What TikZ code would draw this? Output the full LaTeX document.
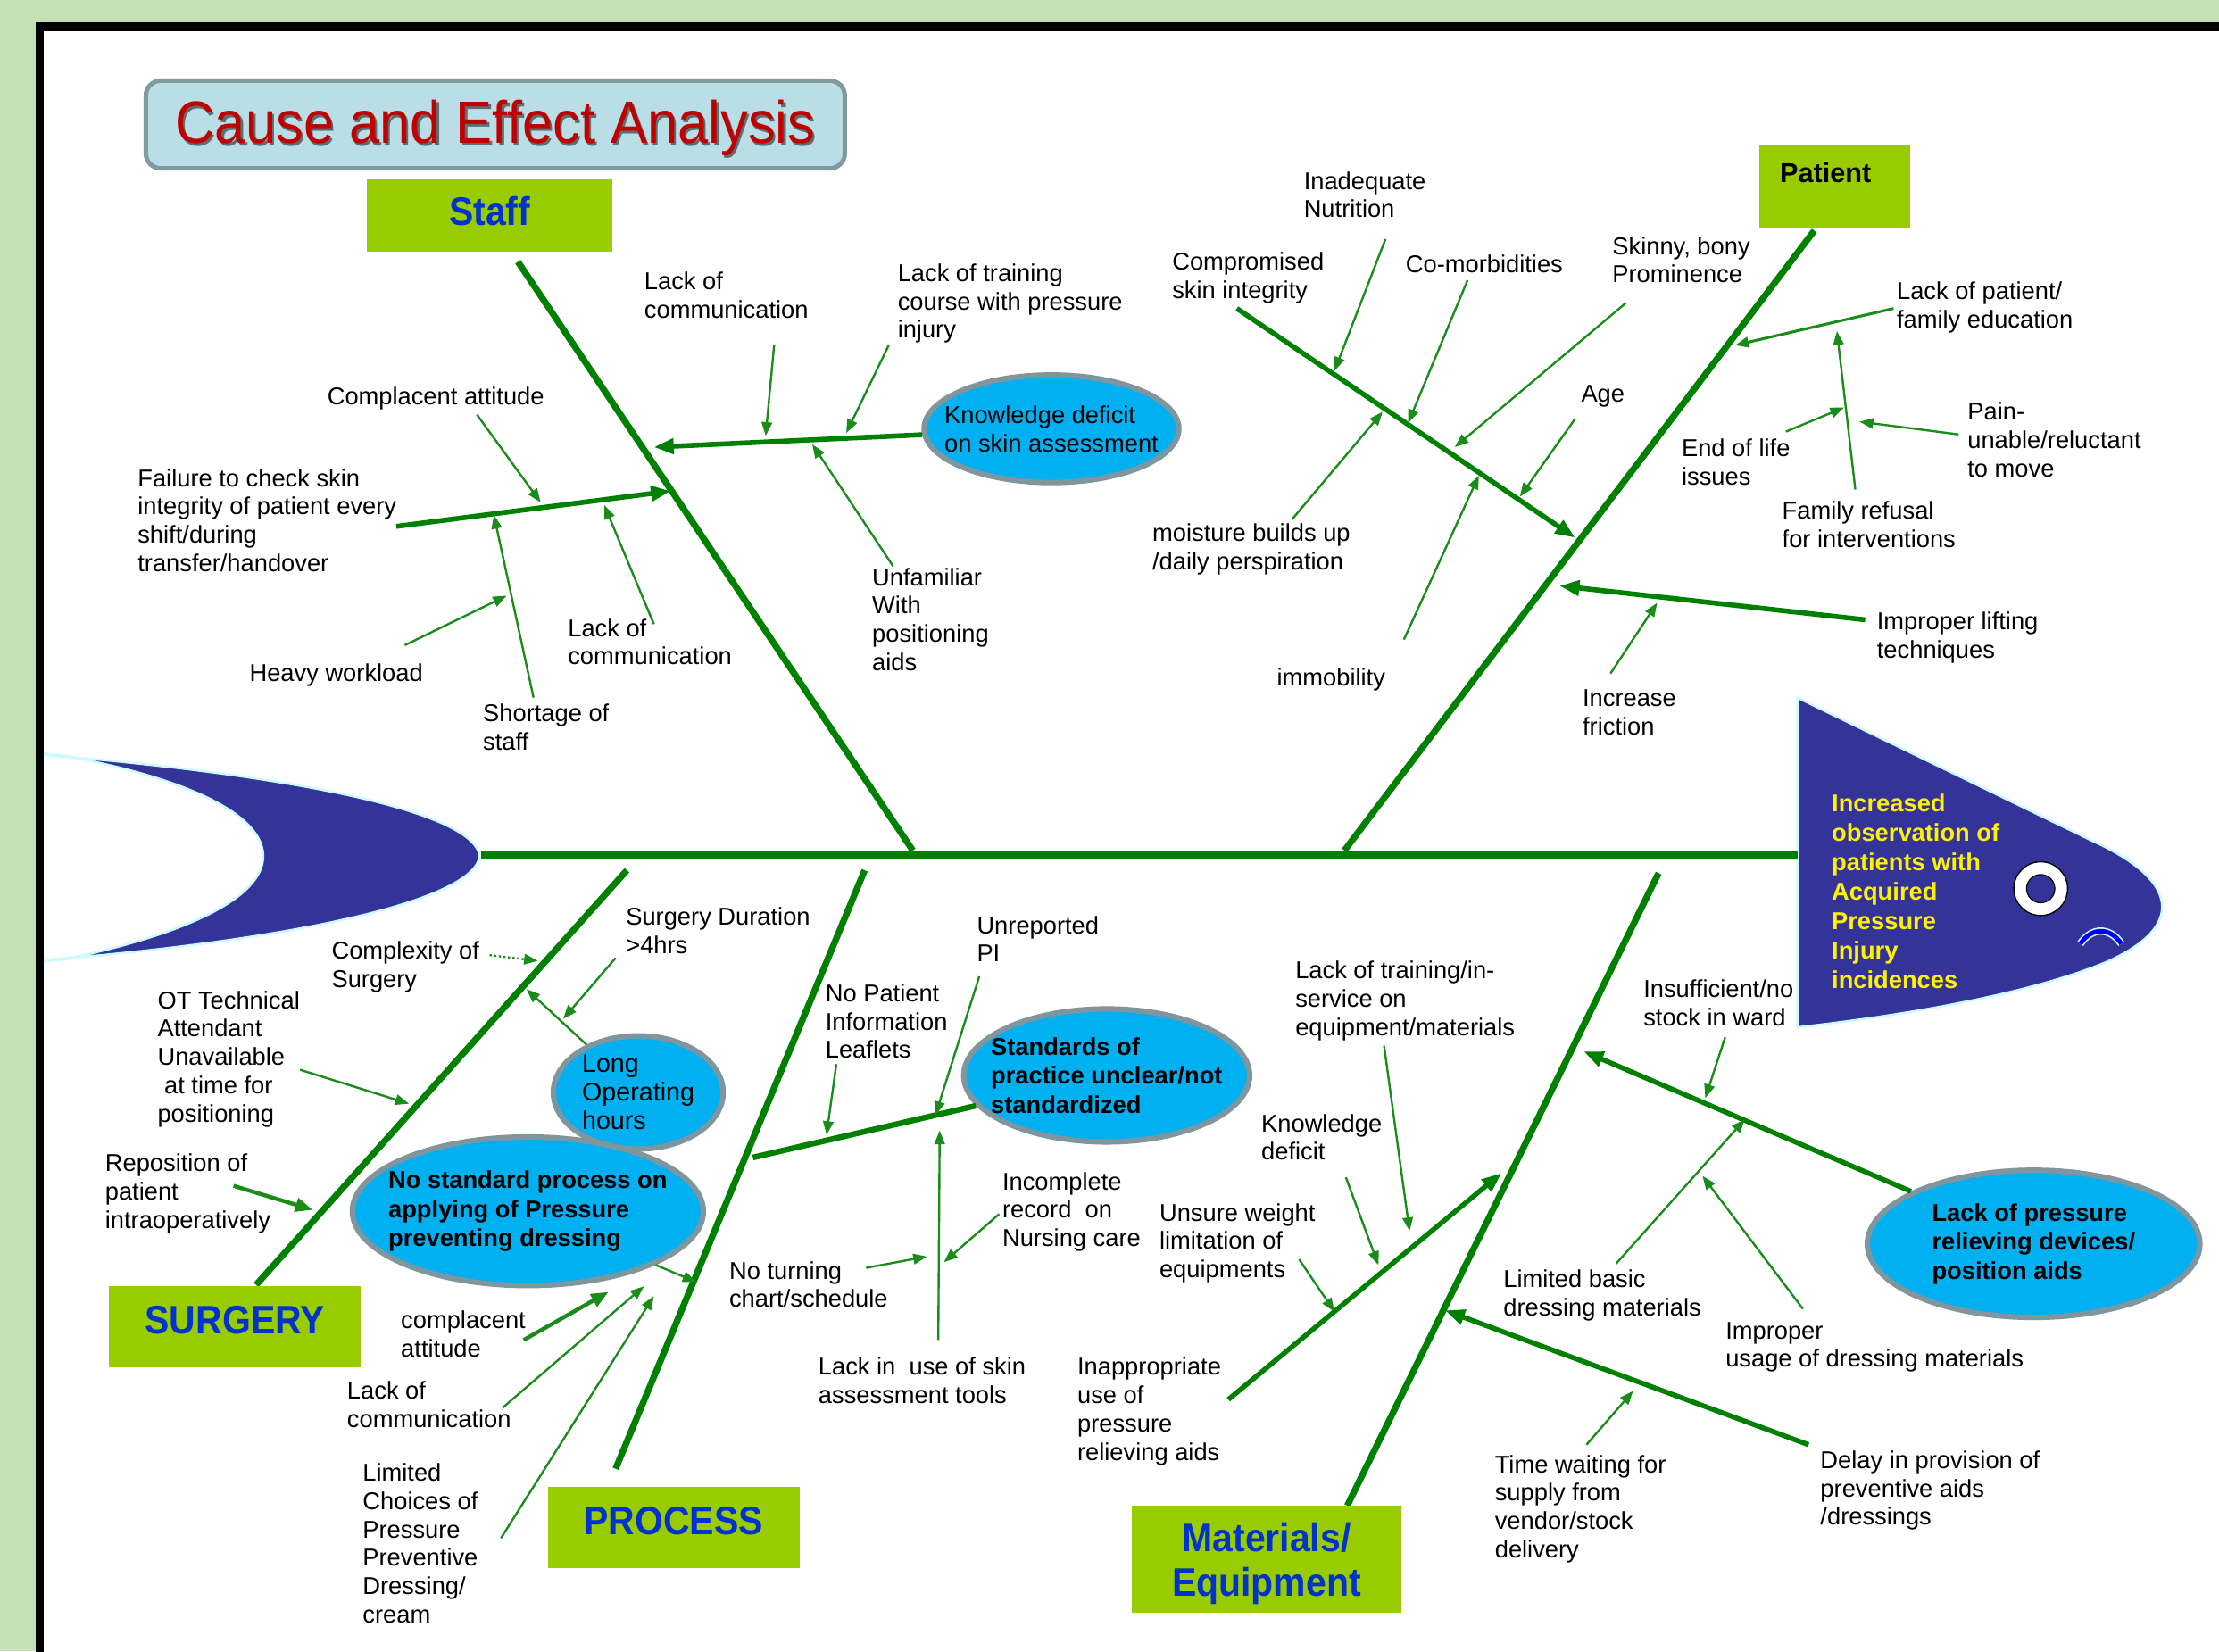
\documentclass[tikz,border=0pt]{standalone}
\usepackage{fontspec}
\setmainfont{Liberation Sans}
\newfontfamily\headfont[FakeStretch=0.92]{Liberation Sans}
\usetikzlibrary{arrows.meta,shapes.geometric,positioning}

\definecolor{bggreen}{RGB}{197,224,180}
\definecolor{bonegreen}{RGB}{0,128,0}
\definecolor{causegreen}{RGB}{25,140,25}
\definecolor{boxgreen}{RGB}{153,204,0}
\definecolor{catblue}{RGB}{0,51,204}
\definecolor{fishblue}{RGB}{51,51,153}
\definecolor{ovalblue}{RGB}{0,176,240}
\definecolor{ovalrim}{RGB}{128,150,158}
\definecolor{titlefill}{RGB}{185,222,230}
\definecolor{titlerim}{RGB}{128,155,160}
\definecolor{titlered}{RGB}{192,0,0}
\definecolor{glow}{RGB}{205,250,255}

\tikzset{
  lbl/.style={anchor=north west, inner sep=0pt, align=left, font=\fontsize{9.8}{11.4}\selectfont},
  catbox/.style={fill=boxgreen, inner sep=0pt, align=center, text=catblue, font=\headfont\bfseries\fontsize{16}{18.2}\selectfont},
  oval/.style={ellipse, fill=ovalblue, draw=ovalrim, line width=2.2pt, inner xsep=-1cm, inner ysep=-0.6cm, align=left, font=\fontsize{9.8}{11.6}\selectfont},
  ovalbold/.style={oval, font=\bfseries\fontsize{9.8}{11.6}\selectfont},
  bone/.style={draw=bonegreen, line width=2.6pt},
  branch/.style={draw=bonegreen, line width=2pt, -{Triangle[length=8pt,width=6pt]}},
  cause/.style={draw=causegreen, line width=0.85pt, -{Triangle[length=5.5pt,width=4.2pt]}},
  midcause/.style={cause, line width=1.6pt, -{Triangle[length=7pt,width=5.5pt]}}
}

\begin{document}
\begin{tikzpicture}[x=0.02cm, y=-0.02cm]
    \useasboundingbox (0,0) rectangle (1568,1167);
    \clip (0,0) rectangle (1568,1167);

    % Page and frame
    \fill[bggreen] (0,0) rectangle (1568,1167);
    \draw[line width=3.4pt, fill=white] (28,19) rectangle (1620,1220);

    % Title
    \node[draw=titlerim, fill=titlefill, line width=1.8pt, rounded corners=6pt, minimum width=9.88cm, minimum height=1.24cm] (titlebox) at (350,88) {};
    \node[font=\headfont\fontsize{24}{28}\selectfont, text=black, opacity=0.5] (titleshade) at (351.5,92) {Cause and Effect Analysis};
    \node[font=\headfont\fontsize{24}{28}\selectfont, text=titlered] (title) at (350,90.5) {Cause and Effect Analysis};

    % Fish tail
    \fill[fishblue, draw=glow, line width=0.9pt] (50,535) .. controls (220,550) and (335,575) .. (339,605)
        .. controls (335,635) and (220,662) .. (50,677)
        .. controls (130,660) and (186,635) .. (186,605)
        .. controls (186,575) and (130,550) .. (50,535) -- cycle;
    \draw[glow, line width=1.4pt] (31,533) -- (50,535);
    \draw[glow, line width=1.4pt] (31,679) -- (50,677);

    % Fish head
    \fill[fishblue, draw=glow, line width=0.9pt] (1270,493) -- (1478,594)
        .. controls (1540,622) and (1545,655) .. (1488,680)
        .. controls (1440,700) and (1360,716) .. (1270,726) -- cycle;
    \draw[black, line width=0.5pt, fill=white] (1442,628) circle [radius=19];
    \draw[black, line width=0.4pt, fill=fishblue] (1442,628) circle [radius=10];
    \draw[glow, line width=3pt] (1470,667) .. controls (1478,655) and (1491,655) .. (1499,667);
    \draw[blue, line width=1.8pt] (1470,667) .. controls (1478,655) and (1491,655) .. (1499,667);
    \node[anchor=north west, inner sep=0pt, align=left, text=yellow, font=\bfseries\fontsize{9.8}{11.8}\selectfont] (effect) at (1294,561) {Increased\\observation of\\patients with\\Acquired\\Pressure\\Injury\\incidences};

    % Spine and main bones
    \coordinate (tail) at (340,604);
    \coordinate (head) at (1270,604);
    \draw[bone, line width=2.9pt] (tail) -- (head);
    \coordinate (staffTop) at (366,185);
    \coordinate (staffFoot) at (645,601);
    \coordinate (patTop) at (1282,163);
    \coordinate (patFoot) at (950,601);
    \coordinate (surgFoot) at (181,908);
    \coordinate (surgTop) at (443,615);
    \coordinate (procTop) at (611,615);
    \coordinate (procFoot) at (435,1038);
    \coordinate (matTop) at (1172,617);
    \coordinate (matFoot) at (952,1064);
    \draw[bone] (staffTop) -- (staffFoot);
    \draw[bone] (patTop) -- (patFoot);
    \draw[bone] (surgFoot) -- (surgTop);
    \draw[bone] (procTop) -- (procFoot);
    \draw[bone] (matTop) -- (matFoot);

    % Category boxes
    \node[catbox, minimum width=3.48cm, minimum height=1.02cm, text depth=0.14cm] (staff) at (346,152.5) {Staff};
    \node[catbox, minimum width=2.14cm, minimum height=1.16cm] (patient) at (1296.5,132) {};
    \node[font=\bfseries\fontsize{11}{13}\selectfont] (patientname) at (1290,122) {Patient};
    \node[catbox, minimum width=3.56cm, minimum height=1.14cm, text depth=0.2cm] (surgery) at (166,937.5) {SURGERY};
    \node[catbox, minimum width=3.56cm, minimum height=1.14cm, text depth=0.2cm] (process) at (476,1079.5) {PROCESS};
    \node[catbox, minimum width=3.8cm, minimum height=1.52cm, text depth=0pt] (materials) at (895,1102) {Materials/\\Equipment};

    % Staff causes
    \node[oval, minimum width=3.6cm, minimum height=1.52cm] (kdoval) at (743,303) {Knowledge deficit\\on skin assessment};
    \coordinate (kdHit) at (462,316);
    \draw[branch] (kdoval) -- (kdHit);
    \coordinate (failTail) at (280,372);
    \coordinate (failHit) at (474,347);
    \draw[branch] (failTail) -- (failHit);

    \node[lbl] (commA) at (455,192) {Lack of\\communication};
    \node[lbl] (training) at (634,186) {Lack of training\\course with pressure\\injury};
    \node[lbl] (unfamiliar) at (616,401) {Unfamiliar\\With\\positioning\\aids};
    \node[lbl] (failure) at (97,331) {Failure to check skin\\integrity of patient every\\shift/during\\transfer/handover};
    \node[lbl] (complA) at (231,273) {Complacent attitude};
    \node[lbl] (commB) at (401,437) {Lack of\\communication};
    \node[lbl] (workload) at (176,469) {Heavy workload};
    \node[lbl] (shortage) at (341,497) {Shortage of\\staff};

    \coordinate (s1) at (547,244); \coordinate (s1h) at (541,308);
    \coordinate (s2) at (628,244); \coordinate (s2h) at (598,306);
    \coordinate (s3) at (631,400); \coordinate (s3h) at (574,314);
    \coordinate (s4) at (337,293); \coordinate (s4h) at (382,355);
    \coordinate (s5) at (462,441); \coordinate (s5h) at (427,357);
    \coordinate (s6) at (286,456); \coordinate (s6h) at (358,421);
    \coordinate (s7) at (377,493); \coordinate (s7h) at (349,364);
    \draw[cause] (s1) -- (s1h);
    \draw[cause] (s2) -- (s2h);
    \draw[cause] (s3) -- (s3h);
    \draw[cause] (s4) -- (s4h);
    \draw[cause] (s5) -- (s5h);
    \draw[cause] (s6) -- (s6h);
    \draw[cause] (s7) -- (s7h);

    % Patient causes
    \coordinate (skinTail) at (874,218);
    \coordinate (skinHit) at (1113,380);
    \draw[branch] (skinTail) -- (skinHit);
    \coordinate (liftTail) at (1318,438);
    \coordinate (liftHit) at (1102,414);
    \draw[branch] (liftTail) -- (liftHit);
    \coordinate (educTail) at (1338,218);
    \coordinate (educHit) at (1226,244);
    \draw[cause, line width=1.1pt] (educTail) -- (educHit);

    \node[lbl] (compromised) at (828,178) {Compromised\\skin integrity};
    \node[lbl] (nutrition) at (921,121) {Inadequate\\Nutrition};
    \node[lbl] (comorb) at (993,180) {Co-morbidities};
    \node[lbl] (bony) at (1139,167) {Skinny, bony\\Prominence};
    \node[lbl] (age) at (1117,272) {Age};
    \node[lbl] (moisture) at (814,370) {moisture builds up\\/daily perspiration};
    \node[lbl] (immobility) at (902,472) {immobility};
    \node[lbl] (education) at (1340,199) {Lack of patient/\\family education};
    \node[lbl] (refusal) at (1259,354) {Family refusal\\for interventions};
    \node[lbl] (endlife) at (1188,310) {End of life\\issues};
    \node[lbl] (pain) at (1390,284) {Pain-\\unable/reluctant\\to move};
    \node[lbl] (lifting) at (1326,432) {Improper lifting\\techniques};
    \node[lbl] (friction) at (1118,487) {Increase\\friction};

    \coordinate (p1) at (979,169); \coordinate (p1h) at (943,262);
    \coordinate (p2) at (1037,198); \coordinate (p2h) at (995,299);
    \coordinate (p3) at (1149,214); \coordinate (p3h) at (1028,316);
    \coordinate (p4) at (1113,296); \coordinate (p4h) at (1074,351);
    \coordinate (p5) at (913,367); \coordinate (p5h) at (977,291);
    \coordinate (p6) at (992,452); \coordinate (p6h) at (1045,336);
    \coordinate (p7) at (1311,346); \coordinate (p7h) at (1298,234);
    \coordinate (p8) at (1262,305); \coordinate (p8h) at (1303,288);
    \coordinate (p9) at (1384,307); \coordinate (p9h) at (1314,298);
    \coordinate (p10) at (1138,476); \coordinate (p10h) at (1171,426);
    \draw[cause] (p1) -- (p1h);
    \draw[cause] (p2) -- (p2h);
    \draw[cause] (p3) -- (p3h);
    \draw[cause] (p4) -- (p4h);
    \draw[cause] (p5) -- (p5h);
    \draw[cause] (p6) -- (p6h);
    \draw[cause] (p7) -- (p7h);
    \draw[cause] (p8) -- (p8h);
    \draw[cause] (p9) -- (p9h);
    \draw[cause] (p10) -- (p10h);

    % Surgery causes
    \node[oval, minimum width=2.4cm, minimum height=1.6cm, font=\fontsize{10.3}{11.4}\selectfont] (longoval) at (451,772) {Long\\Operating\\hours};
    \node[ovalbold, minimum width=4.96cm, minimum height=2.1cm] (nostdoval) at (373,856) {No standard process on\\applying of Pressure\\preventing dressing};

    \node[lbl] (complexity) at (234,665) {Complexity of\\Surgery};
    \node[lbl] (duration) at (442,641) {Surgery Duration\\>4hrs};
    \node[lbl] (attendant) at (111,700) {OT Technical\\Attendant\\Unavailable\\\ at time for\\positioning};
    \node[lbl] (reposition) at (74,815) {Reposition of\\patient\\intraoperatively};

    \coordinate (g1) at (346,675); \coordinate (g1h) at (380,679);
    \coordinate (g2) at (435,677); \coordinate (g2h) at (398,720);
    \coordinate (g3h) at (372,699);
    \coordinate (g4) at (212,756); \coordinate (g4h) at (289,780);
    \coordinate (g5) at (165,838); \coordinate (g5h) at (221,855);
    \coordinate (g6h) at (492,906);
    \draw[cause, densely dotted] (g1) -- (g1h);
    \draw[cause] (g2) -- (g2h);
    \draw[cause] (longoval) -- (g3h);
    \draw[cause] (g4) -- (g4h);
    \draw[midcause] (g5) -- (g5h);
    \draw[cause] (nostdoval) -- (g6h);

    % Process causes
    \node[ovalbold, minimum width=4.04cm, minimum height=1.88cm] (stdoval) at (782,760) {Standards of\\practice unclear/not\\standardized};
    \coordinate (stdHit) at (532,818);
    \draw[bone, line width=2.3pt] (stdoval) -- (stdHit);

    \node[lbl] (complB) at (283,926) {complacent\\attitude};
    \node[lbl] (commC) at (245,976) {Lack of\\communication};
    \node[lbl] (choices) at (256,1034) {Limited\\Choices of\\Pressure\\Preventive\\Dressing/\\cream};
    \node[lbl] (leaflets) at (583,695) {No Patient\\Information\\Leaflets};
    \node[lbl] (unreported) at (690,647) {Unreported\\PI};
    \node[lbl] (tools) at (578,959) {Lack in\ \ use of skin\\assessment tools};
    \node[lbl] (turning) at (515,891) {No turning\\chart/schedule};
    \node[lbl] (record) at (708,828) {Incomplete\\record\ \ on\\Nursing care};

    \coordinate (r1) at (370,947); \coordinate (r1h) at (430,913);
    \coordinate (r2) at (355,995); \coordinate (r2h) at (455,909);
    \coordinate (r3) at (354,1087); \coordinate (r3h) at (462,916);
    \coordinate (r4) at (591,752); \coordinate (r4h) at (584,802);
    \coordinate (r5) at (692,690); \coordinate (r5h) at (661,788);
    \coordinate (r6) at (663,947); \coordinate (r6h) at (664,799);
    \coordinate (r7) at (612,896); \coordinate (r7h) at (655,888);
    \coordinate (r8) at (706,858); \coordinate (r8h) at (667,892);
    \draw[midcause] (r1) -- (r1h);
    \draw[cause] (r2) -- (r2h);
    \draw[cause] (r3) -- (r3h);
    \draw[cause] (r4) -- (r4h);
    \draw[cause] (r5) -- (r5h);
    \draw[cause] (r6) -- (r6h);
    \draw[cause] (r7) -- (r7h);
    \draw[cause] (r8) -- (r8h);

    % Materials / equipment causes
    \node[ovalbold, minimum width=4.7cm, minimum height=2.08cm] (lackpoval) at (1437,879) {Lack of pressure\\relieving devices/\\position aids};
    \coordinate (lackpHit) at (1119,743);
    \draw[branch] (lackpoval) -- (lackpHit);
    \coordinate (inappTail) at (868,989);
    \coordinate (inappHit) at (1061,829);
    \draw[branch] (inappTail) -- (inappHit);
    \coordinate (delayTail) at (1278,1021);
    \coordinate (delayHit) at (1021,926);
    \draw[branch] (delayTail) -- (delayHit);

    \node[lbl] (inapprop) at (761,959) {Inappropriate\\use of\\pressure\\relieving aids};
    \node[lbl] (inservice) at (915,679) {Lack of training/in-\\service on\\equipment/materials};
    \node[lbl] (knowledge) at (891,787) {Knowledge\\deficit};
    \node[lbl] (weight) at (819,850) {Unsure weight\\limitation of\\equipments};
    \node[lbl] (stock) at (1161,692) {Insufficient/no\\stock in ward};
    \node[lbl] (basic) at (1062,897) {Limited basic\\dressing materials};
    \node[lbl] (usage) at (1219,934) {Improper\\usage of dressing materials};
    \node[lbl] (delay) at (1286,1025) {Delay in provision of\\preventive aids\\/dressings};
    \node[lbl] (waiting) at (1056,1028) {Time waiting for\\supply from\\vendor/stock\\delivery};

    \coordinate (m1) at (978,739); \coordinate (m1h) at (996,870);
    \coordinate (m2) at (951,832); \coordinate (m2h) at (974,894);
    \coordinate (m3) at (918,890); \coordinate (m3h) at (943,927);
    \coordinate (m4) at (1219,733); \coordinate (m4h) at (1205,776);
    \coordinate (m5) at (1142,893); \coordinate (m5h) at (1233,791);
    \coordinate (m6) at (1274,925); \coordinate (m6h) at (1203,831);
    \coordinate (m7) at (1121,1021); \coordinate (m7h) at (1154,983);
    \draw[cause] (m1) -- (m1h);
    \draw[cause] (m2) -- (m2h);
    \draw[cause] (m3) -- (m3h);
    \draw[cause] (m4) -- (m4h);
    \draw[cause] (m5) -- (m5h);
    \draw[cause] (m6) -- (m6h);
    \draw[cause] (m7) -- (m7h);
\end{tikzpicture}
\end{document}
